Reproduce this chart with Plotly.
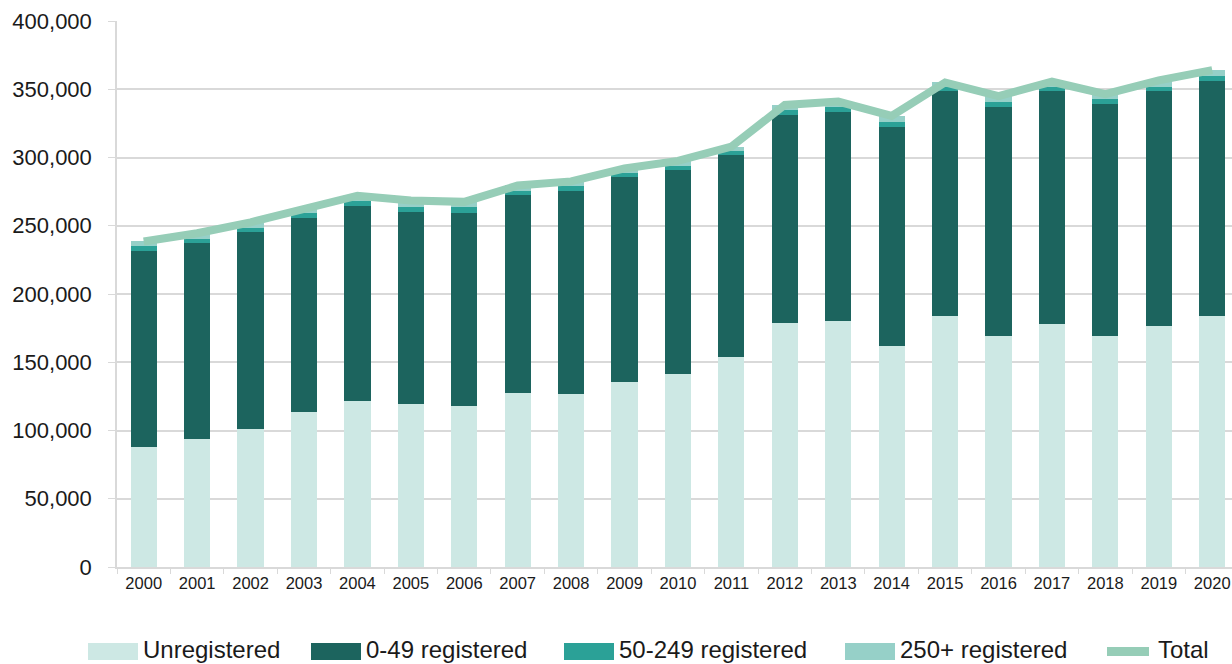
import plotly.graph_objects as go

years = [str(y) for y in range(2000, 2021)]

unregistered = [87700, 93500, 101100, 113800, 121400, 119700, 117900, 127200, 126500, 135800,
                141600, 153600, 178800, 180400, 161900, 183900, 169500, 178000, 169500, 176300, 183900]
reg_0_49 = [143800, 143600, 144100, 141600, 143300, 140600, 141700, 145300, 149200, 149700,
            149200, 148200, 152000, 153100, 160700, 164600, 167700, 171000, 169700, 172400, 172100]
reg_50_249 = [3700, 3200, 3400, 3600, 3300, 3700, 3900, 3300, 3400, 3100,
              3200, 3200, 3700, 3500, 3600, 3500, 3700, 2800, 3400, 3300, 3700]
reg_250_plus = [3300, 4200, 3900, 3500, 4000, 4500, 4000, 3700, 3400, 3400,
                3500, 3000, 4000, 4000, 4300, 3000, 4100, 3700, 3900, 4500, 4300]
total = [238500, 244500, 252500, 262500, 272000, 268500, 267500, 279500, 282500, 292000,
         297500, 308000, 338500, 341000, 330500, 355000, 345000, 355500, 346500, 356500, 364000]

y_ticks = [0, 50000, 100000, 150000, 200000, 250000, 300000, 350000, 400000]

series_names = ["Unregistered", "0-49 registered", "50-249 registered", "250+ registered", "Total"]
colors = {
    "Unregistered": "#cde8e4",
    "0-49 registered": "#1c645e",
    "50-249 registered": "#2ba197",
    "250+ registered": "#96d0c8",
    "Total": "#96cdb7",
}

fig = go.Figure()
for name, vals in zip(series_names[:4], [unregistered, reg_0_49, reg_50_249, reg_250_plus]):
    fig.add_trace(go.Bar(x=years, y=vals, name=name, showlegend=False,
                         marker=dict(color=colors[name], line=dict(width=0))))

fig.add_trace(go.Scatter(x=years, y=total, name="Total", mode="lines", showlegend=False,
                         line=dict(color=colors["Total"], width=8)))

# ---- layout geometry (body margin removed via post_script) ----
PLOT_L, PLOT_R, PLOT_T, PLOT_B = 117, 1232, 21, 567   # plot area in page px
FIG_W, FIG_H = 1232, 664

def px_to_paper_x(sx):
    return (sx - PLOT_L) / (PLOT_R - PLOT_L)

def px_to_paper_y(sy):
    return (PLOT_B - sy) / (PLOT_B - PLOT_T)

# ---- custom legend (wide swatches like the reference) ----
legend_left_px = [88, 311, 564, 845, 1103]
sw_w, sw_top, sw_bot = 50, 643, 660
text_center_y = 649
shapes = []
annotations = []
for name, lx in zip(series_names, legend_left_px):
    if name == "Total":
        yc = px_to_paper_y((sw_top + sw_bot) / 2)
        shapes.append(dict(type="line", xref="paper", yref="paper", x0=px_to_paper_x(lx + 4),
                           x1=px_to_paper_x(lx + sw_w - 4), y0=yc, y1=yc,
                           line=dict(color=colors[name], width=9)))
    else:
        shapes.append(dict(type="rect", xref="paper", yref="paper",
                           x0=px_to_paper_x(lx), x1=px_to_paper_x(lx + sw_w),
                           y0=px_to_paper_y(sw_bot), y1=px_to_paper_y(sw_top),
                           fillcolor=colors[name], line=dict(width=0), layer="above"))
    annotations.append(dict(text=name, xref="paper", yref="paper",
                            x=px_to_paper_x(lx + sw_w + 3), y=px_to_paper_y(text_center_y),
                            xanchor="left", yanchor="middle", showarrow=False,
                            font=dict(size=24, color="#1a1a1a")))

grid = "#d9d9d9"
fig.update_layout(
    width=FIG_W, height=FIG_H,
    barmode="stack", bargap=0.51,
    plot_bgcolor="white", paper_bgcolor="white",
    margin=dict(l=PLOT_L, r=FIG_W - PLOT_R, t=PLOT_T, b=FIG_H - PLOT_B),
    font=dict(family="Liberation Sans, Arial, sans-serif", color="#1a1a1a"),
    showlegend=False,
    shapes=shapes,
    annotations=annotations,
)
fig.update_xaxes(
    type="category", range=[-0.5, 20.37],
    showline=True, linecolor=grid, linewidth=1.5,
    ticks="outside", tickson="boundaries", ticklen=5, tickcolor=grid,
    tickfont=dict(size=16.5), showgrid=False,
)
fig.update_yaxes(
    range=[0, 400000], tickvals=y_ticks, tickformat=",",
    showline=True, linecolor=grid, linewidth=1.5,
    showgrid=True, gridcolor=grid, gridwidth=1.5,
    ticks="outside", ticklen=7, tickcolor=grid, ticklabelstandoff=12,
    tickfont=dict(size=22), zeroline=False,
)

fig.write_html("out.html", config={"displayModeBar": False},
               post_script="document.body.style.margin='0';document.body.style.overflow='hidden';")
